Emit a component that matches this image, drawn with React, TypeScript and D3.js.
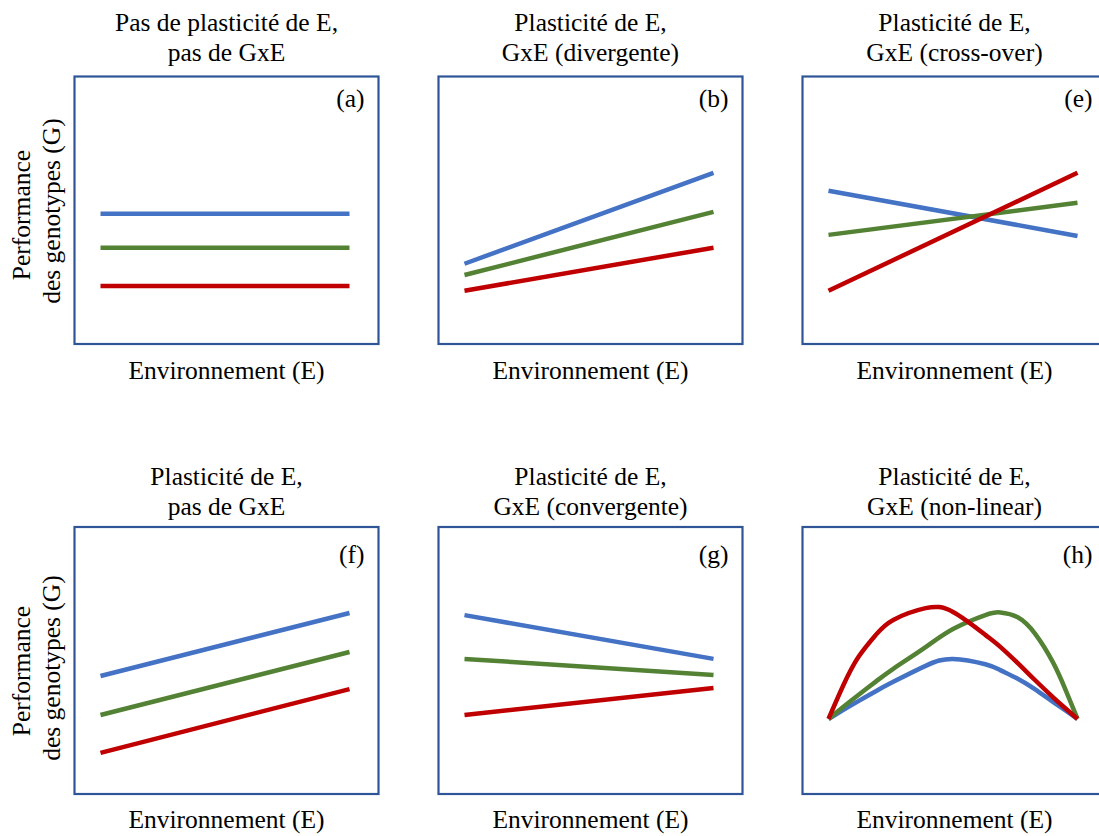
import React from 'react';
import * as d3 from 'd3';

// Environment levels (x) shared by the linear panels
const envLinear = [0, 1];
// Environment levels sampled along the curves of panel (h)
const envCurve = [0, 0.06, 0.12, 0.19, 0.26, 0.39, 0.5, 0.63, 0.69, 0.76, 0.83, 0.9, 0.95, 1];

// Performance values (0 = bottom of frame, 100 = top), series order: blue, green, red
const perfA = [[48.7, 48.7], [36.0, 36.0], [21.7, 21.7]];
const perfB = [[30.0, 64.0], [25.8, 49.4], [19.9, 36.0]];
const perfE = [[57.3, 40.4], [40.8, 52.8], [19.9, 64.0]];
const perfF = [[44.2, 67.8], [29.6, 53.2], [15.4, 39.3]];
const perfG = [[67.0, 50.6], [50.6, 44.6], [29.6, 39.7]];
const perfHBlue = [28.1, 31.5, 34.8, 38.5, 42.0, 48.0, 50.6, 48.6, 46.4, 43.2, 39.2, 34.6, 31.4, 28.1];
const perfHGreen = [28.1, 32.7, 37.1, 42.1, 46.9, 55.0, 61.8, 67.0, 68.0, 66.2, 60.0, 49.6, 39.5, 28.1];
const perfHRed = [28.1, 40.8, 51.3, 59.6, 65.2, 69.6, 68.2, 59.6, 55.1, 49.0, 42.6, 36.4, 32.2, 28.1];

const seriesColors = ['#4472C4', '#548235', '#C00000'];

const titlesTop = [
  ['Pas de plasticité de E,', 'pas de GxE'],
  ['Plasticité de E,', 'GxE (divergente)'],
  ['Plasticité de E,', 'GxE (cross-over)'],
];
const titlesBottom = [
  ['Plasticité de E,', 'pas de GxE'],
  ['Plasticité de E,', 'GxE (convergente)'],
  ['Plasticité de E,', 'GxE (non-linear)'],
];
const lettersTop = ['(a)', '(b)', '(e)'];
const lettersBottom = ['(f)', '(g)', '(h)'];
const xLabel = 'Environnement (E)';
const yLabel = ['Performance', 'des genotypes (G)'];

const FONT = '"Liberation Serif", "Times New Roman", serif';
const FS = 25.5;
const FRAME = '#2F5597';

type Series = { xs: number[]; ys: number[] };

const W = 1099;
const H = 836;
const colX = [74.5, 438.5, 802.5];
const boxW = 304;

const T: React.FC<React.SVGProps<SVGTextElement>> = (props) => (
  <text fontFamily={FONT} fontSize={FS} fill="#000" {...props} />
);

interface PanelProps {
  x0: number;
  top: number;
  bottom: number;
  title: string[];
  titleBase: number;
  letter: string;
  letterBase: number;
  labelBase: number;
  series: Series[];
  curved?: boolean;
}

const Panel: React.FC<PanelProps> = ({ x0, top, bottom, title, titleBase, letter, letterBase, labelBase, series, curved }) => {
  const x = d3.scaleLinear().domain([0, 1]).range([x0 + 26, x0 + 275]);
  const y = d3.scaleLinear().domain([0, 100]).range([bottom, top]);
  const line = d3.line<[number, number]>()
    .x(d => x(d[0]))
    .y(d => y(d[1]))
    .curve(curved ? d3.curveNatural : d3.curveLinear);
  const cx = x0 + boxW / 2;
  return (
    <g>
      <T x={cx} y={titleBase} textAnchor="middle">{title[0]}</T>
      <T x={cx} y={titleBase + 30} textAnchor="middle">{title[1]}</T>
      <rect x={x0} y={top} width={boxW} height={bottom - top} fill="none" stroke={FRAME} strokeWidth={2.2} />
      <T x={x0 + boxW - 14} y={letterBase} textAnchor="end">{letter}</T>
      {series.map((s, i) => (
        <path
          key={i}
          d={line(s.xs.map((v, j) => [v, s.ys[j]] as [number, number])) || ''}
          fill="none"
          stroke={seriesColors[i]}
          strokeWidth={4.5}
        />
      ))}
      <T x={cx} y={labelBase} textAnchor="middle">{xLabel}</T>
    </g>
  );
};

const lin = (p: number[][]): Series[] => p.map(ys => ({ xs: envLinear, ys }));

const App: React.FC = () => {
  const topSeries = [lin(perfA), lin(perfB), lin(perfE)];
  const bottomSeries = [
    lin(perfF),
    lin(perfG),
    [
      { xs: envCurve, ys: perfHBlue },
      { xs: envCurve, ys: perfHGreen },
      { xs: envCurve, ys: perfHRed },
    ],
  ];
  return (
    <svg width={W} height={H} style={{ position: 'absolute', left: 0, top: 0, background: '#fff' }}>
      {colX.map((x0, i) => (
        <Panel key={'t' + i} x0={x0} top={76.5} bottom={344} title={titlesTop[i]} titleBase={31}
          letter={lettersTop[i]} letterBase={107} labelBase={379} series={topSeries[i]} />
      ))}
      {colX.map((x0, i) => (
        <Panel key={'b' + i} x0={x0} top={527} bottom={794} title={titlesBottom[i]} titleBase={485}
          letter={lettersBottom[i]} letterBase={563} labelBase={828} series={bottomSeries[i]} curved={i === 2} />
      ))}
      <T transform="translate(30,215) rotate(-90)" textAnchor="middle">{yLabel[0]}</T>
      <T transform="translate(60,211) rotate(-90)" textAnchor="middle">{yLabel[1]}</T>
      <T transform="translate(30,671) rotate(-90)" textAnchor="middle">{yLabel[0]}</T>
      <T transform="translate(60,668) rotate(-90)" textAnchor="middle">{yLabel[1]}</T>
    </svg>
  );
};

export default App;
